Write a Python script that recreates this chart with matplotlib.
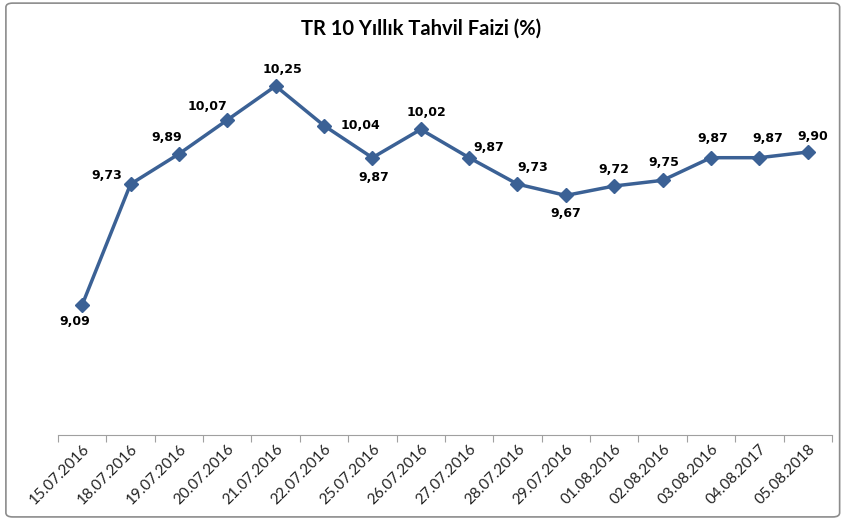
import matplotlib.pyplot as plt
from matplotlib.patches import FancyBboxPatch

dates = ['15.07.2016', '18.07.2016', '19.07.2016', '20.07.2016', '21.07.2016',
         '22.07.2016', '25.07.2016', '26.07.2016', '27.07.2016', '28.07.2016',
         '29.07.2016', '01.08.2016', '02.08.2016', '03.08.2016', '04.08.2017',
         '05.08.2018']
rates = [9.09, 9.73, 9.89, 10.07, 10.25, 10.04, 9.87, 10.02, 9.87, 9.73,
         9.67, 9.72, 9.75, 9.87, 9.87, 9.90]

# label offsets in points (dx, dy), as placed in the original
label_offsets = [(-5, -12), (-17, 6), (-9, 12), (-14, 10), (5, 12), (26, 0),
                 (1, -14), (4, 12), (14, 7), (11, 12), (0, -13), (0, 12),
                 (1, 13), (1, 14), (6, 14), (4, 11)]

color = '#3B6195'

fig = plt.figure(figsize=(8.43, 5.19), dpi=100)
ax = fig.add_axes([0.0688, 0.1618, 0.918, 0.727])

x = list(range(len(dates)))
ax.plot(x, rates, color=color, lw=2.5, marker='D', ms=7.5, mec=color, mfc=color, zorder=3)

for xi, v, (dx, dy) in zip(x, rates, label_offsets):
    ax.annotate(f'{v:.2f}'.replace('.', ','), (xi, v), xytext=(dx, dy),
                textcoords='offset points', ha='center', va='center',
                fontsize=9, fontweight='bold', family='DejaVu Sans')

ax.set_xlim(-0.5, len(dates) - 0.5)
ax.set_ylim(8.4, 10.4)
ax.set_yticks([])
ax.set_xticks([i - 0.5 for i in range(len(dates) + 1)], minor=False)
ax.set_xticklabels([])
ax.set_xticks(x, minor=True)
ax.set_xticklabels(dates, minor=True, rotation=45, ha='right', rotation_mode='anchor',
                   fontsize=11, family='Lato', color='#222222')
ax.tick_params(axis='x', which='major', length=5, color='#A0A0A0', direction='out')
ax.tick_params(axis='x', which='minor', length=0, pad=5)
for s in ['top', 'right', 'left']:
    ax.spines[s].set_visible(False)
ax.spines['bottom'].set_color('#A0A0A0')

fig.text(0.5, 0.945, 'TR 10 Yıllık Tahvil Faizi (%)', ha='center', va='center',
         fontsize=14.5, fontweight='bold', family='Lato')

frame = FancyBboxPatch((0.007, 0.004), 0.989, 0.99, boxstyle='round,pad=0,rounding_size=0.008',
                       transform=fig.transFigure, fill=False, ec='#8C8C8C', lw=1.2)
fig.patches.append(frame)

fig.savefig('out.png', dpi=100)
